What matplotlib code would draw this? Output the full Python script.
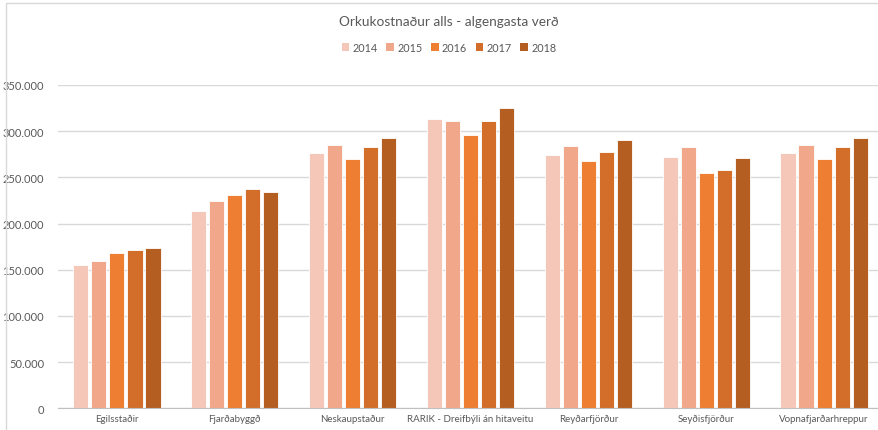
import numpy as np
import matplotlib
matplotlib.use('Agg')
import matplotlib.pyplot as plt
from matplotlib.patches import Rectangle, Patch
from matplotlib.ticker import FuncFormatter

plt.rcParams['font.family'] = ['Lato', 'DejaVu Sans']

# Orkukostnaður eftir veitusvæði, kr. á ári
svaedi = ['Egilsstaðir', 'Fjarðabyggð', 'Neskaupstaður', 'RARIK - Dreifbýli án hitaveitu',
          'Reyðarfjörður', 'Seyðisfjörður', 'Vopnafjarðarhreppur']
ar = ['2014', '2015', '2016', '2017', '2018']
v2014 = [155200, 213800, 276900, 313100, 274100, 271900, 276900]
v2015 = [159200, 224200, 285300, 311300, 284200, 283100, 285300]
v2016 = [168600, 231100, 269800, 296400, 267900, 254600, 269800]
v2017 = [171500, 237600, 283100, 311300, 277300, 257800, 283100]
v2018 = [173300, 234000, 292500, 325000, 290300, 270800, 292500]
gildi = [v2014, v2015, v2016, v2017, v2018]
litir = ['#F5C7B8', '#F1A78A', '#ED7E32', '#D26E2A', '#B45E22']

W, H = 879, 431
fig = plt.figure(figsize=(W / 100, H / 100), dpi=100)

# rammi utan um myndina
fig.patches.append(Rectangle((6 / W, -0.1), 1.2, (H - 4) / H + 0.1, transform=fig.transFigure,
                             fill=False, edgecolor='#D9D9D9', linewidth=1.0))

ax = fig.add_axes([58 / W, (H - 409.3) / H, (883 - 58) / W, (409.3 - 86) / H])

x = np.arange(len(svaedi))
bil = 0.153
breidd = 0.128
for i, (a, v, c) in enumerate(zip(ar, gildi, litir)):
    ax.bar(x + (i - 2) * bil, v, breidd, color=c, edgecolor='white', linewidth=0.6,
           label=a, zorder=3)

ax.set_xlim(-0.5, len(svaedi) - 0.5)
ax.set_ylim(0, 350000)
ax.set_yticks(np.arange(0, 350001, 50000))
ax.yaxis.set_major_formatter(FuncFormatter(lambda v, p: f'{int(v):,}'.replace(',', '.')))
ax.grid(axis='y', color='#D9D9D9', linewidth=1.0, zorder=0)
for s in ['top', 'right', 'left']:
    ax.spines[s].set_visible(False)
ax.spines['bottom'].set_color('#BFBFBF')
ax.spines['bottom'].set_zorder(4)
ax.tick_params(axis='both', length=0, colors='#595959')
ax.tick_params(axis='y', labelsize=8, pad=10)
ax.tick_params(axis='x', labelsize=7, pad=4)
ax.set_xticks(x)
ax.set_xticklabels(svaedi)

fig.text(449 / W, 1 - 22 / H, 'Orkukostnaður alls - algengasta verð', ha='center', va='center',
         fontsize=9.8, color='#595959')

handles = [Patch(facecolor=c, edgecolor='none') for c in litir]
fig.legend(handles, ar, loc='center', bbox_to_anchor=(449 / W, 1 - 48 / H), ncol=5, frameon=False,
           fontsize=7.8, handlelength=0.7, handleheight=0.7, handletextpad=0.3, columnspacing=0.8,
           labelcolor='#595959')

fig.savefig('out.png', dpi=100)
